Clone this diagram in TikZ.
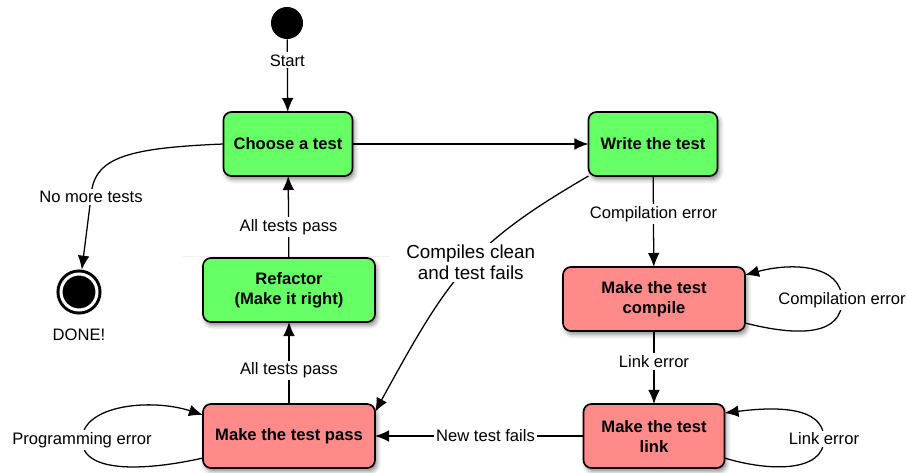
\documentclass[tikz,border=0pt]{standalone}
\usepackage{fontspec}
\setmainfont{Liberation Sans}
\usetikzlibrary{arrows.meta}
\usetikzlibrary{shadows.blur}
\definecolor{passgreen}{HTML}{66FF66}
\definecolor{failred}{HTML}{FF8A8A}
\tikzset{>={Latex[length=3.5mm,width=2.9mm]}}
\tikzset{
    tddbox/.style={draw, line width=1.2pt, rounded corners=2mm, align=center,
        minimum height=1.6cm, inner sep=0pt, outer sep=0pt,
        font=\fontsize{11.8}{14.2}\selectfont\bfseries,
        blur shadow={shadow xshift=1.5pt, shadow yshift=-2.5pt,
            shadow blur radius=3pt, shadow opacity=45}},
    okbox/.style={tddbox, fill=passgreen},
    errbox/.style={tddbox, fill=failred},
    lbl/.style={fill=white, inner sep=1.5pt, align=center,
        font=\fontsize{11.8}{15}\selectfont},
    biglbl/.style={lbl, font=\fontsize{13.4}{15}\selectfont},
    conn/.style={->, line width=0.9pt},
}

\begin{document}
\begin{tikzpicture}[x=0.025cm, y=-0.025cm]
    \useasboundingbox (0,0) rectangle (907,473);
    \draw[gray!12, line width=0.6pt] (183,256)--(390,256);
    \node[circle, fill=black, minimum size=0.8cm, inner sep=0pt] (start) at (287,23) {};
    \node[okbox, minimum width=3.225cm] (choose) at (288,144) {Choose a test};
    \node[okbox, minimum width=3.225cm] (write) at (653,144) {Write the test};
    \node[errbox, minimum width=4.55cm] (compile) at (654,299) {Make the test\\compile};
    \node[errbox, minimum width=3.525cm] (link) at (654,436) {Make the test\\link};
    \node[okbox, minimum width=4.3cm] (refactor) at (289,290) {Refactor\\(Make it right)};
    \node[errbox, minimum width=4.3cm] (pass) at (289,436) {Make the test pass};
    \node[circle, draw, fill=black, line width=0.075cm, double=white, double distance=0.075cm,
        minimum size=0.9cm, inner sep=0pt, outer sep=0.1125cm,
        blur shadow={shadow xshift=1pt, shadow yshift=-1.5pt, shadow opacity=30}]
        (done) at (79,292) {};
    \node[lbl] (donelbl) at (79,335) {DONE!};
    \coordinate (nomore) at (91,197);
    \coordinate (cmploop) at (842,300);
    \coordinate (lnkloop) at (824,439);
    \coordinate (prgloop) at (82,440);

    \draw[conn] (start)--node[lbl, pos=0.29]{Start}(choose);
    \draw[conn] (choose)--(write);
    \draw[conn] (choose.west) .. controls (125,148) and (93,158) .. (nomore)
        node[lbl]{No more tests} -- (done);
    \draw[conn] (write)--node[lbl, pos=0.42]{Compilation error}(compile);
    \draw[conn] (compile)--node[lbl, pos=0.42]{Link error}(link);
    \draw[conn] (link)--node[lbl, pos=0.47]{New test fails}(pass);
    \draw[conn] (pass)--node[lbl, pos=0.41]{All tests pass}(refactor);
    \draw[conn] (refactor)--node[lbl, pos=0.38]{All tests pass}(choose);
    \draw[conn] (write.south west) .. controls (470,245) and (450,275) ..
        node[biglbl, pos=0.47]{Compiles clean\\and test fails} ([yshift=-2mm]pass.north east);
    \draw[conn] ([yshift=2mm]compile.south east) .. controls +(55,14) and +(0,35) ..
        (cmploop) node[lbl]{Compilation error}
        .. controls +(0,-35) and +(48,-13) .. ([yshift=-2mm]compile.north east);
    \draw[conn] ([yshift=2.5mm]link.south east) .. controls +(46,14) and +(0,33) ..
        (lnkloop) node[lbl]{Link error}
        .. controls +(0,-34) and +(48,-6) .. ([yshift=-2.25mm]link.north east);
    \draw[conn] ([yshift=2.5mm]pass.south west) .. controls +(-53,12) and +(0,35) ..
        (prgloop) node[lbl]{Programming error}
        .. controls +(0,-35) and +(-52,-17) .. ([yshift=-2.75mm]pass.north west);
\end{tikzpicture}
\end{document}
